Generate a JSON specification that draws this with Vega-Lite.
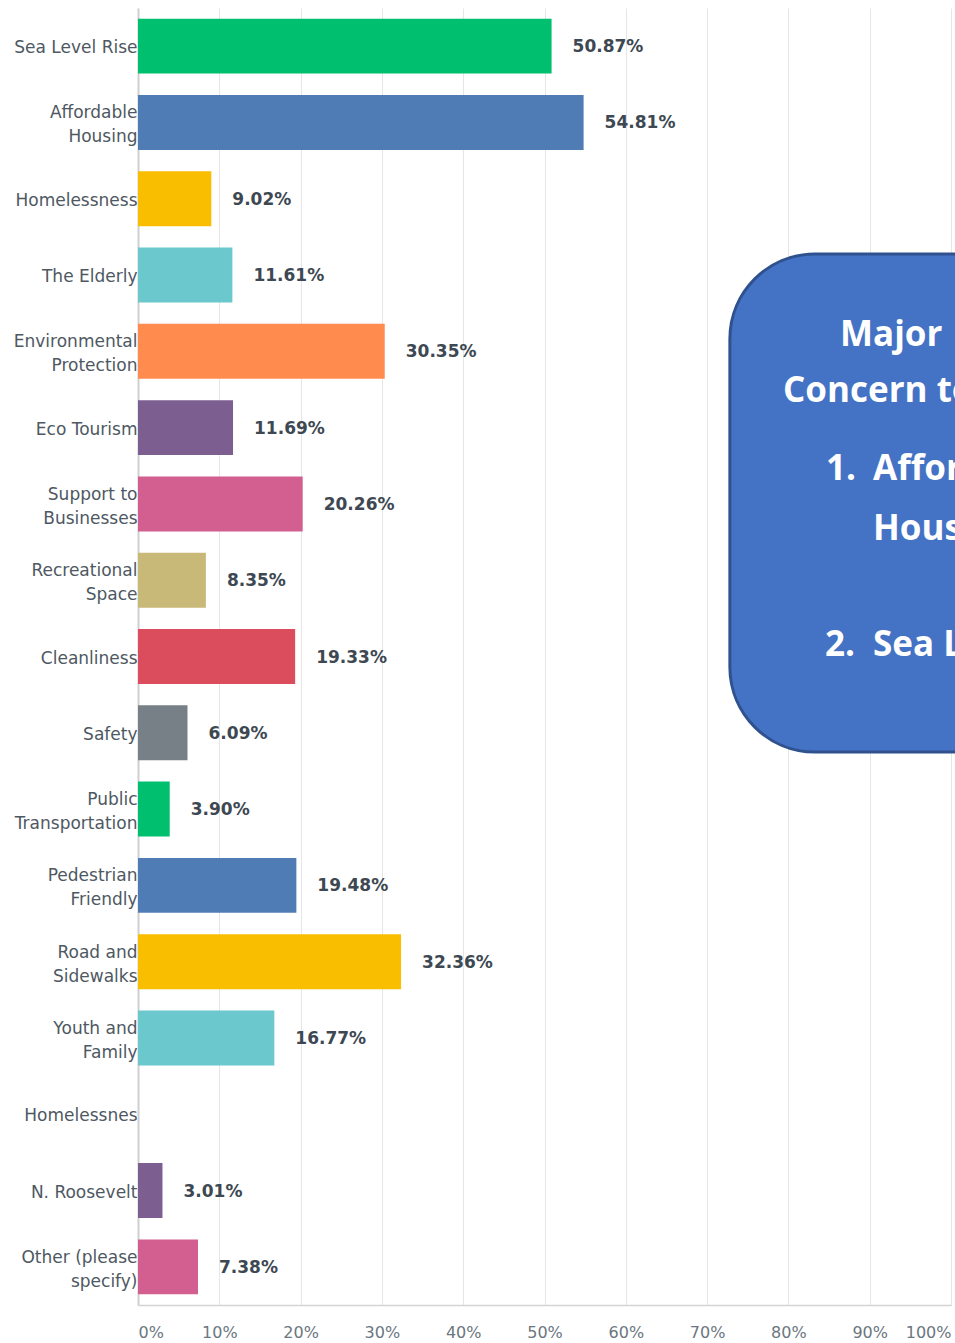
{
  "$schema": "https://vega.github.io/schema/vega-lite/v6.json",
  "autosize": "none",
  "padding": {"left": 138, "top": 8, "right": 4, "bottom": 38},
  "width": 813,
  "height": 1297,
  "background": "white",
  "config": {
    "view": {"stroke": null},
    "axis": {"labelFont": "DejaVu Sans"}
  },
  "layer": [
    {
      "data": {
        "values": [
          {"answer": "Sea Level Rise", "value": 0.5087},
          {"answer": "Affordable\nHousing", "value": 0.5481},
          {"answer": "Homelessness", "value": 0.0902},
          {"answer": "The Elderly", "value": 0.1161},
          {"answer": "Environmental\nProtection", "value": 0.3035},
          {"answer": "Eco Tourism", "value": 0.1169},
          {"answer": "Support to\nBusinesses", "value": 0.2026},
          {"answer": "Recreational\nSpace", "value": 0.0835},
          {"answer": "Cleanliness", "value": 0.1933},
          {"answer": "Safety", "value": 0.0609},
          {"answer": "Public\nTransportation", "value": 0.039},
          {"answer": "Pedestrian\nFriendly", "value": 0.1948},
          {"answer": "Road and\nSidewalks", "value": 0.3236},
          {"answer": "Youth and\nFamily", "value": 0.1677},
          {"answer": "Homelessnes", "value": 0},
          {"answer": "N. Roosevelt", "value": 0.0301},
          {"answer": "Other (please\nspecify)", "value": 0.0738}
        ]
      },
      "encoding": {
        "y": {
          "field": "answer",
          "type": "nominal",
          "sort": null,
          "title": null,
          "scale": {"paddingInner": 0.28, "paddingOuter": 0.14},
          "axis": {
            "labelExpr": "split(datum.label, '\\n')",
            "labelFontSize": 17,
            "labelColor": "#4e5862",
            "labelLineHeight": 24,
            "labelPadding": 1,
            "labelLimit": 200,
            "labelOffset": {"condition": {"test": "indexof(datum.value, '\\n') >= 0", "value": -9}, "value": 2},
            "ticks": false,
            "domainColor": "#cfcfcf",
            "domainWidth": 2,
            "grid": false
          }
        },
        "x": {
          "field": "value",
          "type": "quantitative",
          "title": null,
          "scale": {"domain": [0, 1], "nice": false},
          "axis": {
            "format": ".0%",
            "values": [0, 0.1, 0.2, 0.3, 0.4, 0.5, 0.6, 0.7, 0.8, 0.9, 1],
            "labelFontSize": 16,
            "labelColor": "#6b7680",
            "labelFlush": true,
            "labelPadding": 19,
            "ticks": false,
            "grid": true,
            "gridColor": "#e6e6e6",
            "gridWidth": 1,
            "domainColor": "#d4d4d4",
            "domainWidth": 1.5
          }
        }
      },
      "layer": [
        {
          "mark": {"type": "bar"},
          "encoding": {
            "color": {
              "field": "answer",
              "type": "nominal",
              "legend": null,
              "scale": {
                "domain": ["Sea Level Rise", "Affordable\nHousing", "Homelessness", "The Elderly", "Environmental\nProtection", "Eco Tourism", "Support to\nBusinesses", "Recreational\nSpace", "Cleanliness", "Safety", "Public\nTransportation", "Pedestrian\nFriendly", "Road and\nSidewalks", "Youth and\nFamily", "Homelessnes", "N. Roosevelt", "Other (please\nspecify)"],
                "range": ["#00BF6F", "#507CB6", "#F9BE00", "#6BC8CD", "#FF8B4F", "#7D5E90", "#D25F90", "#C9B978", "#DB4D5C", "#768086", "#00BF6F", "#507CB6", "#F9BE00", "#6BC8CD", "#FF8B4F", "#7D5E90", "#D25F90"]
              }
            }
          }
        },
        {
          "transform": [{"filter": "datum.value > 0"}],
          "mark": {"type": "text", "align": "left", "baseline": "middle", "dx": 21, "dy": 1, "font": "DejaVu Sans", "fontSize": 17, "fontWeight": "bold", "color": "#3d4852"},
          "encoding": {
            "text": {"field": "value", "type": "quantitative", "format": ".2%"}
          }
        }
      ]
    },
    {
      "data": {"values": [{"box": "annotation"}]},
      "encoding": {
        "x": {"type": "quantitative", "axis": null, "scale": {"domain": [0, 1], "nice": false, "zero": false}},
        "y": {"type": "quantitative", "axis": null, "scale": {"domain": [0, 17], "reverse": true, "nice": false, "zero": false}}
      },
      "layer": [
        {
          "mark": {"type": "rect", "cornerRadius": 85, "fill": "#4472C4", "stroke": "#2F528F", "strokeWidth": 3, "clip": false},
          "encoding": {
            "x": {"datum": 0.728, "type": "quantitative", "axis": null, "scale": {"domain": [0, 1], "nice": false, "zero": false}},
            "x2": {"datum": 1.3},
            "y": {"datum": 3.224, "type": "quantitative", "axis": null, "scale": {"domain": [0, 17], "reverse": true, "nice": false, "zero": false}},
            "y2": {"datum": 9.752}
          }
        },
        {
          "mark": {"type": "text", "text": "Major", "align": "left", "baseline": "alphabetic", "font": "Open Sans", "fontWeight": "bold", "fontSize": 35, "color": "white"},
          "encoding": {
            "x": {"datum": 0.8635, "type": "quantitative", "axis": null},
            "y": {"datum": 4.43, "type": "quantitative", "axis": null}
          }
        },
        {
          "mark": {"type": "text", "text": "Concern to", "align": "left", "baseline": "alphabetic", "font": "Open Sans", "fontWeight": "bold", "fontSize": 35, "color": "white"},
          "encoding": {
            "x": {"datum": 0.7934, "type": "quantitative", "axis": null},
            "y": {"datum": 5.164, "type": "quantitative", "axis": null}
          }
        },
        {
          "mark": {"type": "text", "text": "1.", "align": "left", "baseline": "alphabetic", "font": "Open Sans", "fontWeight": "bold", "fontSize": 35, "color": "white"},
          "encoding": {
            "x": {"datum": 0.8462, "type": "quantitative", "axis": null},
            "y": {"datum": 6.187, "type": "quantitative", "axis": null}
          }
        },
        {
          "mark": {"type": "text", "text": "Affordable", "align": "left", "baseline": "alphabetic", "font": "Open Sans", "fontWeight": "bold", "fontSize": 35, "color": "white"},
          "encoding": {
            "x": {"datum": 0.9041, "type": "quantitative", "axis": null},
            "y": {"datum": 6.187, "type": "quantitative", "axis": null}
          }
        },
        {
          "mark": {"type": "text", "text": "Housing", "align": "left", "baseline": "alphabetic", "font": "Open Sans", "fontWeight": "bold", "fontSize": 35, "color": "white"},
          "encoding": {
            "x": {"datum": 0.9041, "type": "quantitative", "axis": null},
            "y": {"datum": 6.975, "type": "quantitative", "axis": null}
          }
        },
        {
          "mark": {"type": "text", "text": "2.", "align": "left", "baseline": "alphabetic", "font": "Open Sans", "fontWeight": "bold", "fontSize": 35, "color": "white"},
          "encoding": {
            "x": {"datum": 0.845, "type": "quantitative", "axis": null},
            "y": {"datum": 8.49, "type": "quantitative", "axis": null}
          }
        },
        {
          "mark": {"type": "text", "text": "Sea Level Rise", "align": "left", "baseline": "alphabetic", "font": "Open Sans", "fontWeight": "bold", "fontSize": 35, "color": "white"},
          "encoding": {
            "x": {"datum": 0.9041, "type": "quantitative", "axis": null},
            "y": {"datum": 8.49, "type": "quantitative", "axis": null}
          }
        }
      ]
    }
  ],
  "resolve": {"scale": {"x": "independent", "y": "independent"}, "axis": {"x": "independent", "y": "independent"}}
}
